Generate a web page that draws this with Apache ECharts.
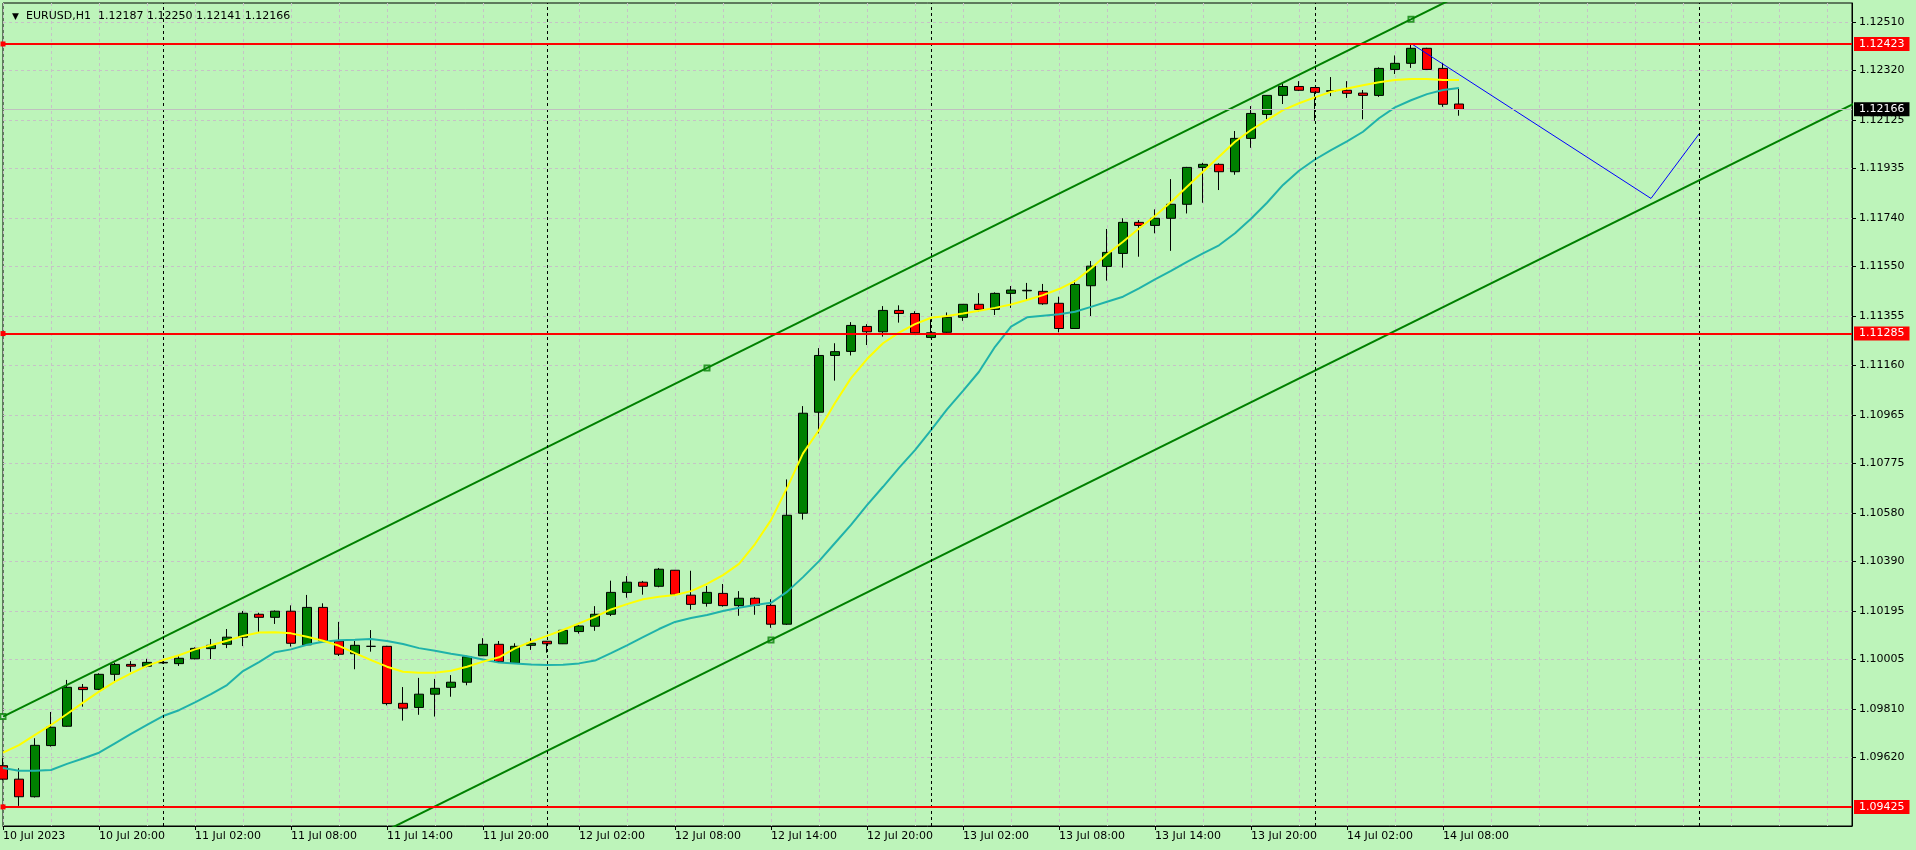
<!DOCTYPE html>
<html><head><meta charset="utf-8">
<script src="https://cdn.jsdelivr.net/npm/echarts@6/dist/echarts.min.js"></script>
<style>html,body{margin:0;padding:0;background:#BDF4BA;}#c{width:1916px;height:850px;}</style>
</head><body><div id="c"></div>
<script>
const symbolName = 'EURUSD,H1';
const opens = [1.09587,1.09534,1.09465,1.09666,1.09742,1.09895,1.09887,1.09946,1.09985,1.09978,
1.09991,1.09988,1.10007,1.10047,1.10064,1.10092,1.10182,1.10170,1.10194,1.10062,
1.10209,1.10077,1.10027,1.10056,1.10056,1.09832,1.09816,1.09868,1.09895,1.09915,
1.10019,1.10064,1.09990,1.10060,1.10076,1.10066,1.10114,1.10135,1.10182,1.10268,
1.10308,1.10292,1.10355,1.10257,1.10225,1.10264,1.10216,1.10245,1.10217,1.10143,
1.10579,1.10976,1.11199,1.11215,1.11313,1.11292,1.11376,1.11364,1.11270,1.11290,
1.11349,1.11400,1.11380,1.11443,1.11453,1.11451,1.11404,1.11305,1.11473,1.11549,
1.11600,1.11722,1.11710,1.11738,1.11793,1.11938,1.11950,1.11921,1.12052,1.12146,
1.12221,1.12256,1.12252,1.12237,1.12241,1.12230,1.12221,1.12323,1.12347,1.12406,
1.12327,1.12187];
const highs = [1.09616,1.09577,1.09695,1.09798,1.09924,1.09908,1.09950,1.09992,1.09998,1.10007,
1.09997,1.10022,1.10052,1.10085,1.10124,1.10195,1.10188,1.10197,1.10217,1.10258,
1.10225,1.10152,1.10077,1.10120,1.10058,1.09896,1.09932,1.09928,1.09943,1.10019,
1.10088,1.10077,1.10068,1.10088,1.10077,1.10120,1.10139,1.10214,1.10314,1.10332,
1.10313,1.10364,1.10356,1.10353,1.10293,1.10301,1.10273,1.10249,1.10241,1.10712,
1.11000,1.11228,1.11247,1.11330,1.11322,1.11393,1.11396,1.11373,1.11341,1.11368,
1.11401,1.11444,1.11447,1.11472,1.11484,1.11480,1.11430,1.11495,1.11570,1.11696,
1.11738,1.11731,1.11773,1.11892,1.11940,1.11956,1.11954,1.12081,1.12179,1.12222,
1.12268,1.12277,1.12254,1.12293,1.12277,1.12242,1.12331,1.12378,1.12425,1.12408,
1.12349,1.12250];
const lows = [1.09530,1.09429,1.09462,1.09662,1.09740,1.09819,1.09884,1.09917,1.09956,1.09974,
1.09988,1.09979,1.10005,1.10006,1.10049,1.10057,1.10110,1.10144,1.10055,1.10061,
1.10077,1.10018,1.09966,1.10035,1.09824,1.09764,1.09787,1.09780,1.09858,1.09903,
1.10018,1.09991,1.09987,1.10042,1.10031,1.10065,1.10106,1.10117,1.10175,1.10247,
1.10259,1.10288,1.10255,1.10200,1.10212,1.10212,1.10176,1.10180,1.10129,1.10140,
1.10554,1.10893,1.11100,1.11199,1.11240,1.11273,1.11328,1.11287,1.11267,1.11288,
1.11335,1.11371,1.11358,1.11386,1.11418,1.11398,1.11290,1.11303,1.11354,1.11493,
1.11544,1.11587,1.11679,1.11610,1.11757,1.11799,1.11849,1.11909,1.12015,1.12127,
1.12187,1.12238,1.12121,1.12218,1.12211,1.12127,1.12215,1.12305,1.12329,1.12321,
1.12176,1.12141];
const closes = [1.09534,1.09465,1.09667,1.09738,1.09895,1.09886,1.09946,1.09985,1.09978,1.09993,
1.09993,1.10009,1.10048,1.10060,1.10092,1.10186,1.10170,1.10194,1.10068,1.10209,
1.10078,1.10025,1.10060,1.10056,1.09831,1.09813,1.09868,1.09891,1.09915,1.10015,
1.10064,1.09996,1.10056,1.10068,1.10066,1.10119,1.10136,1.10182,1.10268,1.10308,
1.10292,1.10359,1.10260,1.10221,1.10268,1.10216,1.10245,1.10217,1.10143,1.10571,
1.10972,1.11199,1.11214,1.11317,1.11292,1.11376,1.11364,1.11288,1.11288,1.11349,
1.11400,1.11380,1.11443,1.11456,1.11455,1.11402,1.11305,1.11478,1.11550,1.11604,
1.11722,1.11710,1.11738,1.11793,1.11938,1.11950,1.11921,1.12052,1.12150,1.12221,
1.12256,1.12241,1.12233,1.12239,1.12229,1.12221,1.12327,1.12347,1.12406,1.12323,
1.12186,1.12166];
const maFast = [1.09638,1.09668,1.09708,1.09747,1.09790,1.09835,1.09878,1.09917,1.09950,1.09979,
1.10002,1.10021,1.10044,1.10060,1.10078,1.10097,1.10110,1.10111,1.10107,1.10094,
1.10078,1.10058,1.10029,1.10002,1.09976,1.09956,1.09952,1.09952,1.09960,1.09976,
1.09996,1.10013,1.10048,1.10074,1.10097,1.10120,1.10146,1.10172,1.10201,1.10222,
1.10241,1.10251,1.10258,1.10273,1.10301,1.10336,1.10380,1.10458,1.10552,1.10678,
1.10814,1.10906,1.11012,1.11110,1.11185,1.11247,1.11289,1.11322,1.11347,1.11354,
1.11364,1.11375,1.11386,1.11399,1.11417,1.11436,1.11460,1.11491,1.11541,1.11597,
1.11646,1.11698,1.11747,1.11802,1.11862,1.11921,1.11980,1.12039,1.12085,1.12124,
1.12163,1.12190,1.12213,1.12235,1.12248,1.12261,1.12273,1.12281,1.12285,1.12285,
1.12281,1.12281];
const maSlow = [1.09578,1.09567,1.09567,1.09570,1.09594,1.09615,1.09638,1.09675,1.09712,1.09747,
1.09782,1.09805,1.09836,1.09868,1.09904,1.09959,1.09994,1.10033,1.10044,1.10062,
1.10074,1.10080,1.10082,1.10085,1.10077,1.10065,1.10049,1.10039,1.10027,1.10017,
1.10004,1.09992,1.09989,1.09985,1.09983,1.09984,1.09989,1.10000,1.10029,1.10060,
1.10092,1.10124,1.10152,1.10167,1.10179,1.10195,1.10208,1.10218,1.10227,1.10270,
1.10328,1.10391,1.10462,1.10533,1.10611,1.10683,1.10757,1.10827,1.10906,1.10987,
1.11060,1.11135,1.11233,1.11312,1.11349,1.11355,1.11361,1.11371,1.11390,1.11410,
1.11430,1.11463,1.11498,1.11531,1.11567,1.11600,1.11632,1.11679,1.11736,1.11799,
1.11869,1.11925,1.11969,1.12006,1.12040,1.12078,1.12131,1.12174,1.12202,1.12226,
1.12242,1.12250];
const xTickBars = [0,6,12,18,24,30,36,42,48,54,60,66,72,78,84,90];
const xTickLabels = ['10 Jul 2023','10 Jul 20:00','11 Jul 02:00','11 Jul 08:00','11 Jul 14:00','11 Jul 20:00',
  '12 Jul 02:00','12 Jul 08:00','12 Jul 14:00','12 Jul 20:00','13 Jul 02:00','13 Jul 08:00',
  '13 Jul 14:00','13 Jul 20:00','14 Jul 02:00','14 Jul 08:00'];
const yTickLabels = ['1.12510','1.12320','1.12125','1.11935','1.11740','1.11550','1.11355','1.11160',
  '1.10965','1.10775','1.10580','1.10390','1.10195','1.10005','1.09810','1.09620'];
const levelLines = [1.12423, 1.11285, 1.09425];
const currentPrice = 1.12166;
const separatorBars = [10, 34, 58, 82, 106];
const channelUpper = [[0, 1.09780], [44, 1.11150]];
const channelLowerAnchor = [48, 1.10081];
const channelMarkerBars = [0, 44, 88];
const zigzag = [[88, 1.12425], [103, 1.11816], [106, 1.12069]];

const BG = '#BDF4BA';
const FONT = 'DejaVu Sans';
const slope = (channelUpper[1][1] - channelUpper[0][1]) / (channelUpper[1][0] - channelUpper[0][0]);
const upAt = b => channelUpper[0][1] + (b - channelUpper[0][0]) * slope;
const loAt = b => channelLowerAnchor[1] + (b - channelLowerAnchor[0]) * slope;
const lastBar = 120;
const yTicks = yTickLabels.map(Number);
const n = opens.length - 1;

const priceLabel = bg => ({
  show: true, position: 'end', distance: 2, formatter: p => Number(p.value).toFixed(5),
  backgroundColor: bg, color: '#fff', padding: [1, 5, 1, 5], fontSize: 11, lineHeight: 12, fontFamily: FONT
});

const chart = echarts.init(document.getElementById('c'));
chart.setOption({
  animation: false,
  backgroundColor: BG,
  title: {
    left: 7, top: 6,
    text: '{a|▼}{b|' + symbolName + '  ' + [opens[n], highs[n], lows[n], closes[n]].map(v => v.toFixed(5)).join(' ') + '}',
    textStyle: {
      fontWeight: 'normal',
      rich: {
        a: {fontSize: 9, width: 14, color: '#000', fontFamily: FONT, fontWeight: 'normal'},
        b: {fontSize: 11, color: '#000', fontFamily: FONT, fontWeight: 'normal'}
      }
    }
  },
  grid: {left: 3, right: 64, top: 3, bottom: 24, show: true, borderColor: '#000', borderWidth: 1, backgroundColor: BG},
  xAxis: [{
    type: 'value', min: 0, max: 115.5625, position: 'bottom',
    axisLine: {show: true, onZero: false, lineStyle: {color: '#000', width: 1}},
    axisTick: {show: true, customValues: xTickBars, length: 4, lineStyle: {color: '#000'}},
    axisLabel: {customValues: xTickBars, formatter: v => xTickLabels[xTickBars.indexOf(v)] || '',
      align: 'left', margin: 5, color: '#000', fontSize: 11, fontFamily: FONT},
    splitLine: {show: false}
  }, {
    type: 'value', min: 0, max: 115.5625, interval: 3, position: 'top',
    axisLine: {show: false}, axisTick: {show: false}, axisLabel: {show: false},
    splitLine: {show: true, lineStyle: {color: '#C6C2C6', type: [3, 3], width: 1}}
  }],
  yAxis: {
    type: 'value', position: 'right', min: 1.09350, max: 1.12584, scale: true,
    axisLine: {show: true, onZero: false, lineStyle: {color: '#000', width: 1}},
    axisTick: {show: true, customValues: yTicks, length: 4, lineStyle: {color: '#000'}},
    axisLabel: {customValues: yTicks, formatter: v => v.toFixed(5), margin: 7, color: '#000', fontSize: 11, fontFamily: FONT},
    splitLine: {show: true, lineStyle: {color: '#C6C2C6', type: [3, 3], width: 1}}
  },
  series: [
    {
      type: 'line', data: [], silent: true,
      markLine: {
        silent: true, symbol: 'none', label: {show: false}, precision: 5,
        lineStyle: {color: '#000', type: [3, 3], width: 1},
        data: separatorBars.map(b => ({xAxis: b}))
      }
    },
    {
      type: 'candlestick', barWidth: 10, clip: true,
      data: opens.map((o, i) => [i, o, closes[i], lows[i], highs[i]]),
      encode: {x: 0, y: [1, 2, 3, 4]},
      itemStyle: {color: '#008000', color0: '#FF0000', borderColor: '#000', borderColor0: '#000', borderColorDoji: '#000', borderWidth: 1},
      emphasis: {disabled: true}
    },
    {type: 'line', data: maSlow.map((v, i) => [i, v]), showSymbol: false, symbol: 'none',
      lineStyle: {color: '#20B2AA', width: 2}, silent: true},
    {type: 'line', data: maFast.map((v, i) => [i, v]), showSymbol: false, symbol: 'none',
      lineStyle: {color: '#FFFF00', width: 2}, silent: true},
    {type: 'line', data: [[0, upAt(0)], [lastBar, upAt(lastBar)]], symbol: 'none',
      lineStyle: {color: '#008000', width: 2}, silent: true},
    {type: 'line', data: [[0, loAt(0)], [lastBar, loAt(lastBar)]], symbol: 'none',
      lineStyle: {color: '#008000', width: 2}, silent: true},
    {type: 'scatter', symbol: 'emptyRect', symbolSize: 5, silent: true,
      itemStyle: {color: '#008000', borderWidth: 1.5},
      data: channelMarkerBars.map(b => [b, upAt(b)]).concat([[channelLowerAnchor[0], loAt(channelLowerAnchor[0])]])},
    {type: 'line', data: zigzag, symbol: 'none', lineStyle: {color: '#0000FF', width: 1}, silent: true},
    {
      type: 'line', data: [], silent: true,
      markLine: {
        silent: true, symbol: 'none', precision: 5,
        data: [
          {yAxis: currentPrice, lineStyle: {color: '#C0C0C0', width: 1, type: 'solid'}, label: priceLabel('#000')}
        ].concat(levelLines.map(v => ({
          yAxis: v, symbol: ['emptyRect', 'emptyRect'], symbolSize: 5,
          lineStyle: {color: '#FF0000', width: 2, type: 'solid'},
          label: priceLabel('#FF0000')
        })))
      }
    }
  ]
});
</script>
</body></html>
